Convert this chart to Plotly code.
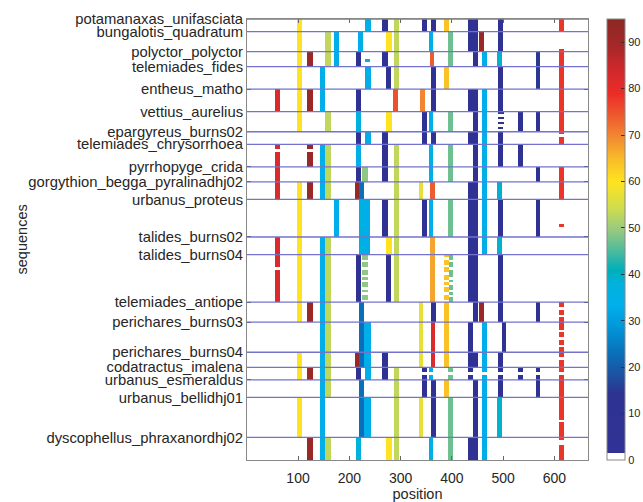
import numpy as np
import plotly.graph_objects as go

# ---------------- data ----------------
group_names = [
    "potamanaxas_unifasciata", "bungalotis_quadratum", "polyctor_polyctor",
    "telemiades_fides", "entheus_matho", "vettius_aurelius", "epargyreus_burns02",
    "telemiades_chrysorrhoea", "pyrrhopyge_crida", "gorgythion_begga_pyralinadhj02",
    "urbanus_proteus", "talides_burns02", "talides_burns04", "telemiades_antiope",
    "perichares_burns03", "perichares_burns04", "codatractus_imalena",
    "urbanus_esmeraldus", "urbanus_bellidhj01", "dyscophellus_phraxanordhj02",
]
group_rows = [5, 8, 6, 9, 9, 8, 5, 9, 6, 7, 15, 7, 19, 8, 12, 6, 5, 7, 16, 9]
n_positions = 665

# colour values
RED, YEL, DRED, CYAN, YG, DB, MB = 82, 60, 92, 33, 53, 8, 23
GT, GOLD, ROR, ORG, RED2, BRED, LIME = 47, 64, 74, 67, 78, 82, 57
CT, TC, LG, DB2, ORG2, OR3 = 39, 37, 49, 15, 70, 75

# bars per group: (start position, end position, value[, first row, last row])
group_bars = [
    [(98,108,YEL),(232,242,CYAN),(265,275,DB),(287,297,YG),(342,352,DB),(360,370,DB),
     (385,394,GOLD),(432,451,DB),(491,501,DB),(609,620,RED2)],
    [(98,108,YEL),(154,164,YG),(170,180,CYAN),(218,228,CYAN),(273,283,YEL),(287,297,YG),
     (355,364,CYAN),(393,402,GT),(432,451,DB),(453,464,DRED),(491,501,DB),(609,620,RED2,7,8)],
    [(98,108,YEL),(118,129,DRED),(154,164,YG),(170,180,CYAN),(213,223,DB),(232,240,CYAN,3,4),
     (265,275,DB),(287,297,YG),(357,366,ROR),(393,402,GT),(441,451,DB),(460,469,CYAN),
     (488,498,CT),(564,573,DB2),(609,620,RED2)],
    [(98,108,YEL),(144,153,CYAN),(232,242,CYAN),(273,281,DB),(287,297,YG),(360,370,DB),
     (385,394,GOLD),(491,501,DB),(564,573,DB2),(609,620,RED2)],
    [(56,65,RED),(98,108,YEL),(118,129,DRED),(144,153,CYAN),(213,223,DB),(286,295,OR3),
     (339,348,ORG2),(360,370,DB),(432,451,DB),(460,469,CYAN),(491,501,DB),(609,620,RED2)],
    [(98,108,YEL),(154,164,YG),(213,223,TC),(273,283,YEL),(342,352,DB),(355,364,CYAN),
     (393,402,GT),(441,451,DB),(460,469,CYAN),(491,503,DB,0,1),(491,503,DB,2,3),
     (491,503,DB,4,5),(491,501,DB,6,7),(530,539,DB),(564,573,DB),(609,620,RED2)],
    [(213,223,DB),(232,242,CYAN),(265,275,DB),(342,352,DB),(360,370,DB),(432,451,DB),
     (460,469,CYAN),(491,501,DB),(609,620,RED2)],
    [(56,65,RED),(118,129,DRED),(144,153,CYAN),(154,164,YG),(213,223,CYAN),(265,275,DB),
     (287,297,YG),(355,364,CYAN),(393,402,GT),(441,451,DB),(460,469,CYAN),(491,501,DB),
     (530,539,DB)],
    [(56,65,RED),(144,153,CYAN),(154,164,YG),(213,223,DB),(225,236,LG),(265,275,DB),
     (287,297,YG),(355,364,CYAN),(393,402,GT),(441,451,DB),(460,469,CYAN),(564,573,DB),
     (609,620,RED2)],
    [(56,65,RED),(98,108,YEL),(118,129,DRED),(144,153,CYAN),(154,164,YG),(211,220,DRED),
     (220,230,MB),(287,297,YG),(336,345,LIME),(357,367,ROR),(432,451,DB),(460,469,CYAN),
     (488,498,CT),(609,620,RED2)],
    [(98,108,YEL),(170,180,CYAN),(219,230,TC),(230,241,CYAN),(265,275,DB),(287,297,YG),
     (342,352,DB),(355,364,CYAN),(393,402,GT),(432,451,DB),(460,469,CYAN),(491,501,DB),
     (564,573,DB),(609,620,RED2,10,11)],
    [(56,65,RED),(98,108,YEL),(144,153,CYAN),(154,164,YG),(219,230,TC),(230,241,CYAN),
     (273,283,YEL),(287,297,YG),(357,367,ORG),(432,451,DB),(460,469,CYAN),(488,498,CT)],
    [(56,65,RED),(98,108,YEL),(144,153,CYAN),(154,164,YG),(213,223,DB),(273,281,DB),
     (287,297,YG),(357,367,ORG),(432,451,DB),(491,501,DB)],
    [(98,108,YEL),(118,129,DRED),(144,153,CYAN),(154,164,YG),(219,230,MB),(336,345,LIME),
     (360,370,DB),(385,394,GOLD),(441,451,DB),(453,464,DRED),(491,501,DB),(564,573,DB),
     (609,620,RED2)],
    [(144,153,CYAN),(154,164,YG),(220,230,MB),(230,242,CYAN),(336,345,LIME),(359,368,BRED),
     (385,394,GOLD),(432,441,DB),(460,469,CYAN),(498,507,DB),(609,620,RED2)],
    [(98,108,YEL),(144,153,CYAN),(154,164,YG),(211,220,DRED),(220,230,MB),(230,242,CYAN),
     (265,275,DB),(336,345,LIME),(359,368,BRED),(385,394,GOLD),(432,451,DB),(460,469,CYAN),
     (491,501,DB),(609,620,RED2)],
    [(98,108,YEL),(118,129,DRED),(144,153,CYAN),(154,164,YG),(213,223,DB),(232,242,CYAN),
     (265,275,DB),(287,297,YG),(342,352,DB),(355,364,CYAN),(393,402,GT),(432,441,DB),
     (460,469,CYAN),(491,501,DB),(530,539,DB),(564,573,DB),(609,620,RED2)],
    [(144,153,CYAN),(154,164,YG),(220,230,MB),(287,297,YG),(342,352,DB),(360,370,DB),
     (385,394,GOLD),(441,451,DB),(460,469,CYAN),(491,501,DB),(564,573,DB),(609,620,RED2)],
    [(98,108,YEL),(144,153,CYAN),(220,230,MB),(230,242,CYAN),(287,297,YG),(336,345,LIME),
     (360,370,DB),(393,402,GT),(441,451,DB),(460,469,CYAN),(488,498,CT),(609,620,RED2)],
    [(118,129,DRED),(144,153,CYAN),(154,164,YG),(213,223,TC),(273,283,YEL),(287,297,YG),
     (355,364,CYAN),(393,402,GT),(432,451,DB),(460,469,CYAN),(609,620,RED2)],
]

# sparse columns in talides_burns04 (rows within the group)
sparse_group = 12
sparse_lg_rows = [0, 1, 3, 4, 6, 7, 9, 11, 12, 14, 16, 17]
sparse_gold_rows = [0, 2, 3, 5, 6, 8, 9, 11, 13, 14, 16, 17]
sparse_gt_rows = [0, 1, 3, 4, 6, 7, 8, 10, 12, 13, 15, 17, 18]

# white gap rows (absolute row, start position, end position)
gap_rows = [(46, 600, 630), (52, 50, 70), (52, 110, 135), (56, 600, 630), (99, 50, 70),
            (115, 600, 630), (118, 600, 630), (124, 600, 630), (127, 600, 630),
            (130, 600, 630), (135, 600, 630), (141, 300, 630), (160, 600, 630),
            (168, 600, 630), (169, 600, 630)]

# ---------------- build matrix ----------------
N = sum(group_rows)
starts = np.concatenate([[0], np.cumsum(group_rows)[:-1]])
z = np.zeros((N, n_positions))
for g, bars in enumerate(group_bars):
    s, n = starts[g], group_rows[g]
    for b in bars:
        x0, x1, v = b[0], b[1], b[2]
        r0, r1 = (b[3], b[4]) if len(b) > 3 else (0, n)
        z[s + r0:s + r1, x0 - 1:x1 - 1] = v
s = starts[sparse_group]
for r in sparse_lg_rows:
    z[s + r, 224:236] = LG
for r in sparse_gold_rows:
    z[s + r, 384:393] = GOLD
for r in sparse_gt_rows:
    z[s + r, 393:401] = GT
for r, x0, x1 in gap_rows:
    z[r, x0 - 1:x1 - 1] = 0

x = np.arange(1, n_positions + 1)
y = np.arange(N) + 0.5

zmax = 95
colorscale = [
    [0.0, "rgb(255,255,255)"], [0.016, "rgb(255,255,255)"],
    [0.016, "rgb(50,50,150)"], [0.15, "rgb(45,50,145)"], [0.19, "rgb(30,80,160)"],
    [0.24, "rgb(10,110,185)"], [0.30, "rgb(0,150,215)"], [0.35, "rgb(0,175,235)"],
    [0.40, "rgb(0,178,220)"], [0.43, "rgb(0,175,185)"], [0.47, "rgb(70,185,160)"],
    [0.52, "rgb(150,200,130)"], [0.57, "rgb(205,220,80)"], [0.63, "rgb(255,228,30)"],
    [0.68, "rgb(248,190,40)"], [0.73, "rgb(242,140,50)"], [0.78, "rgb(238,90,45)"],
    [0.83, "rgb(235,45,40)"], [0.89, "rgb(205,40,45)"], [0.94, "rgb(165,40,40)"],
    [1.0, "rgb(140,40,35)"],
]

fig = go.Figure(go.Heatmap(
    x=x, y=y, z=z, zmin=0, zmax=zmax, colorscale=colorscale, zsmooth=False,
    hoverinfo="skip",
    colorbar=dict(
        x=1.0557, xanchor="left", xpad=0, y=0.5, yanchor="middle", len=1.0,
        ypad=0, thickness=18, outlinecolor="#888", outlinewidth=1,
        tickvals=list(range(0, 100, 10)), ticks="inside", ticklen=4,
        tickcolor="#333", tickfont=dict(family="Liberation Sans", size=11, color="#262626"),
    ),
))

for s0 in starts:
    fig.add_shape(type="line", xref="x", yref="y", x0=0.5, x1=n_positions + 0.5,
                  y0=s0, y1=s0, line=dict(color="rgb(115,115,205)", width=1.3),
                  layer="above")

fig.add_annotation(text="sequences", textangle=-90, xref="paper", yref="paper",
                   x=-0.66, y=0.5, xanchor="center", yanchor="middle",
                   showarrow=False, font=dict(size=14.5, color="#262626"))

fig.update_layout(
    width=643, height=502,
    margin=dict(l=247, r=55, t=19, b=42, autoexpand=False),
    paper_bgcolor="white", plot_bgcolor="white",
    font=dict(family="Liberation Sans", color="#262626"),
)
fig.update_xaxes(
    automargin=False,
    range=[0.5, n_positions + 0.5], tickvals=[100, 200, 300, 400, 500, 600],
    ticks="inside", ticklen=4, tickcolor="#666", showline=True, linecolor="#888",
    linewidth=1, mirror="ticks", showgrid=False, zeroline=False, ticklabelstandoff=5,
    tickfont=dict(size=14), title=dict(text="position", font=dict(size=14.5), standoff=4),
)
fig.update_yaxes(
    automargin=False,
    range=[N, 0], tickvals=list(starts), ticktext=group_names,
    ticks="inside", ticklen=4, tickcolor="#333", showline=True, linecolor="#888",
    linewidth=1, mirror="ticks", showgrid=False, zeroline=False,
    tickfont=dict(size=14.8),
)

fig.write_html("out.html", config={"displayModeBar": False},
               post_script="document.body.style.margin='0';document.body.style.overflow='hidden';")
